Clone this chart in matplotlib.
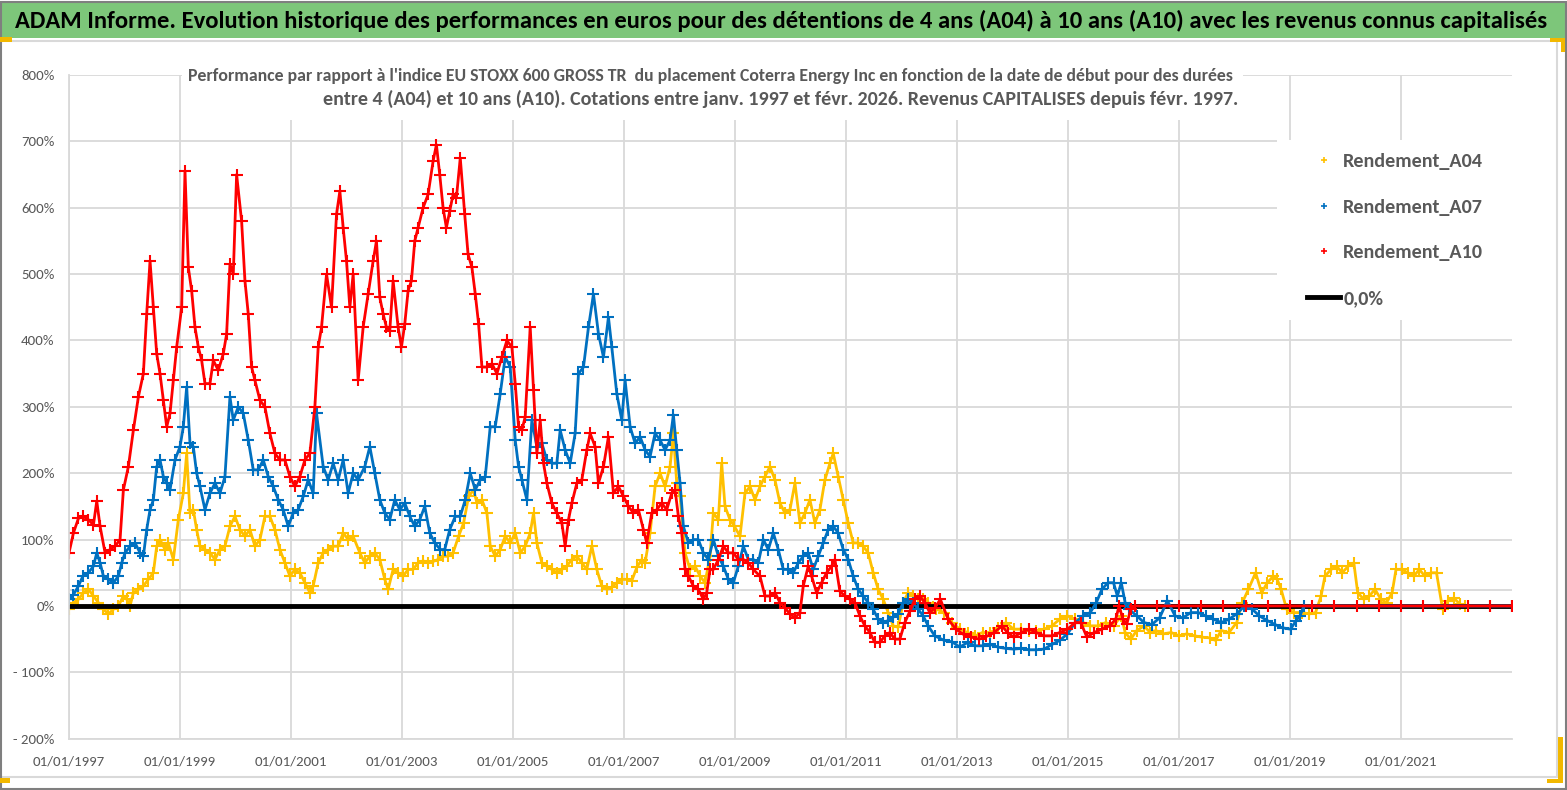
import matplotlib
matplotlib.use("Agg")
import matplotlib.pyplot as plt
from matplotlib.lines import Line2D
from matplotlib.patches import Rectangle

plt.rcParams['font.family'] = ['Carlito', 'DejaVu Sans']

# valeurs (annee decimale, rendement en %)
a04_years = [1997.00, 1997.08, 1997.17, 1997.26, 1997.35, 1997.44, 1997.53, 1997.62, 1997.71, 1997.80,
             1997.89, 1997.98, 1998.04, 1998.10, 1998.16, 1998.25, 1998.34, 1998.43, 1998.52, 1998.58,
             1998.64, 1998.73, 1998.79, 1998.88, 1998.97, 1999.06, 1999.12, 1999.18, 1999.24, 1999.30,
             1999.36, 1999.45, 1999.54, 1999.63, 1999.72, 1999.81, 1999.90, 1999.99, 2000.08, 2000.17,
             2000.26, 2000.35, 2000.44, 2000.53, 2000.62, 2000.71, 2000.80, 2000.89, 2000.98, 2001.07,
             2001.16, 2001.25, 2001.34, 2001.40, 2001.49, 2001.58, 2001.67, 2001.76, 2001.85, 2001.94,
             2002.03, 2002.12, 2002.24, 2002.33, 2002.42, 2002.51, 2002.60, 2002.69, 2002.75, 2002.84,
             2002.93, 2003.02, 2003.11, 2003.20, 2003.29, 2003.38, 2003.47, 2003.56, 2003.65, 2003.74,
             2003.83, 2003.92, 2004.02, 2004.11, 2004.20, 2004.29, 2004.35, 2004.44, 2004.53, 2004.59,
             2004.68, 2004.77, 2004.86, 2004.95, 2005.04, 2005.13, 2005.22, 2005.31, 2005.37, 2005.43,
             2005.52, 2005.61, 2005.70, 2005.79, 2005.88, 2005.97, 2006.06, 2006.15, 2006.24, 2006.33,
             2006.42, 2006.51, 2006.60, 2006.69, 2006.78, 2006.87, 2006.96, 2007.05, 2007.14, 2007.23,
             2007.32, 2007.38, 2007.47, 2007.56, 2007.65, 2007.74, 2007.83, 2007.89, 2007.95, 2008.01,
             2008.10, 2008.19, 2008.28, 2008.37, 2008.46, 2008.55, 2008.61, 2008.70, 2008.76, 2008.82,
             2008.91, 2008.99, 2009.09, 2009.18, 2009.27, 2009.36, 2009.45, 2009.54, 2009.63, 2009.72,
             2009.81, 2009.90, 2009.99, 2010.08, 2010.17, 2010.26, 2010.35, 2010.44, 2010.53, 2010.62,
             2010.71, 2010.77, 2010.86, 2010.95, 2011.04, 2011.13, 2011.22, 2011.31, 2011.40, 2011.49,
             2011.58, 2011.67, 2011.76, 2011.85, 2011.94, 2012.03, 2012.12, 2012.21, 2012.30, 2012.39,
             2012.48, 2012.57, 2012.63, 2012.77, 2012.91, 2013.05, 2013.19, 2013.33, 2013.46, 2013.60,
             2013.74, 2013.88, 2014.02, 2014.16, 2014.30, 2014.43, 2014.57, 2014.71, 2014.85, 2014.99,
             2015.13, 2015.27, 2015.40, 2015.54, 2015.68, 2015.82, 2015.96, 2016.03, 2016.13, 2016.24,
             2016.37, 2016.48, 2016.58, 2016.72, 2016.86, 2017.00, 2017.14, 2017.28, 2017.41, 2017.55,
             2017.66, 2017.76, 2017.90, 2018.04, 2018.14, 2018.25, 2018.38, 2018.49, 2018.59, 2018.70,
             2018.77, 2018.84, 2018.94, 2019.08, 2019.22, 2019.35, 2019.46, 2019.56, 2019.63, 2019.74,
             2019.84, 2019.94, 2020.05, 2020.15, 2020.22, 2020.33, 2020.43, 2020.53, 2020.64, 2020.74,
             2020.84, 2020.91, 2021.02, 2021.12, 2021.23, 2021.33, 2021.43, 2021.54, 2021.64, 2021.75,
             2021.85, 2021.95, 2022.06, 2022.16, 2022.60, 2023.00]
a04_vals = [-5, 5, 10, 20, 25, 15, 5, -5, -12, -5,
            0, 15, 10, 0, 20, 25, 30, 40, 50, 90,
            100, 85, 95, 70, 130, 170, 230, 140, 145, 115,
            90, 85, 80, 70, 85, 90, 120, 135, 115, 105,
            115, 90, 100, 135, 135, 115, 85, 65, 45, 55,
            50, 35, 20, 30, 65, 80, 85, 90, 90, 110,
            100, 105, 80, 65, 75, 80, 70, 40, 25, 55,
            50, 45, 55, 55, 65, 68, 65, 67, 70, 75,
            75, 80, 105, 125, 165, 175, 155, 160, 140, 90,
            75, 85, 105, 95, 110, 80, 90, 110, 140, 95,
            65, 60, 55, 50, 55, 60, 70, 75, 65, 55,
            90, 55, 30, 25, 28, 35, 40, 40, 38, 58,
            70, 65, 110, 180, 200, 180, 210, 260, 185, 165,
            80, 55, 60, 45, 35, 75, 140, 130, 215, 150,
            130, 120, 105, 170, 180, 160, 180, 195, 210, 190,
            155, 140, 145, 185, 125, 140, 160, 125, 145, 190,
            215, 230, 195, 160, 125, 95, 95, 90, 80, 50,
            25, 10, -10, -30, -32, 5, 20, 15, 10, 10,
            5, -2, -5, -10, -25, -35, -40, -45, -40, -40,
            -33, -25, -35, -35, -37, -37, -35, -30, -20, -15,
            -20, -25, -30, -30, -25, -30, -15, -40, -50, -37,
            -30, -40, -37, -42, -40, -45, -42, -45, -47, -48,
            -52, -37, -40, -25, 5, 25, 50, 20, 35, 45,
            40, 25, -5, -10, -10, -12, -10, 15, 45, 55,
            60, 50, 60, 65, 20, 10, 15, 25, 10, 5,
            20, 55, 55, 50, 45, 55, 45, 50, 50, -5,
            8, 12, 3, 0, 0, 0]

a07_years = [1997.00, 1997.08, 1997.17, 1997.25, 1997.35, 1997.44, 1997.50, 1997.56, 1997.62, 1997.71,
             1997.80, 1997.89, 1997.95, 1998.01, 1998.10, 1998.19, 1998.28, 1998.34, 1998.40, 1998.46,
             1998.52, 1998.58, 1998.64, 1998.70, 1998.76, 1998.82, 1998.91, 1999.00, 1999.06, 1999.12,
             1999.18, 1999.24, 1999.30, 1999.36, 1999.45, 1999.54, 1999.63, 1999.72, 1999.81, 1999.90,
             1999.96, 2000.05, 2000.14, 2000.23, 2000.32, 2000.41, 2000.50, 2000.59, 2000.68, 2000.77,
             2000.86, 2000.95, 2001.04, 2001.13, 2001.22, 2001.31, 2001.40, 2001.46, 2001.58, 2001.67,
             2001.76, 2001.85, 2001.94, 2002.03, 2002.12, 2002.21, 2002.33, 2002.42, 2002.51, 2002.60,
             2002.69, 2002.78, 2002.87, 2002.96, 2003.05, 2003.14, 2003.23, 2003.32, 2003.41, 2003.50,
             2003.59, 2003.69, 2003.77, 2003.86, 2003.96, 2004.05, 2004.14, 2004.23, 2004.32, 2004.41,
             2004.50, 2004.59, 2004.68, 2004.77, 2004.86, 2004.95, 2005.04, 2005.10, 2005.16, 2005.25,
             2005.34, 2005.43, 2005.52, 2005.61, 2005.70, 2005.79, 2005.85, 2005.94, 2006.03, 2006.12,
             2006.18, 2006.27, 2006.36, 2006.45, 2006.54, 2006.63, 2006.72, 2006.78, 2006.87, 2006.96,
             2007.02, 2007.11, 2007.20, 2007.29, 2007.38, 2007.47, 2007.56, 2007.65, 2007.74, 2007.83,
             2007.89, 2007.95, 2008.01, 2008.07, 2008.16, 2008.25, 2008.34, 2008.43, 2008.52, 2008.61,
             2008.70, 2008.79, 2008.88, 2008.97, 2009.06, 2009.15, 2009.24, 2009.33, 2009.42, 2009.51,
             2009.60, 2009.69, 2009.78, 2009.87, 2009.96, 2010.05, 2010.14, 2010.23, 2010.32, 2010.41,
             2010.50, 2010.59, 2010.68, 2010.77, 2010.86, 2010.95, 2011.04, 2011.13, 2011.22, 2011.31,
             2011.40, 2011.49, 2011.58, 2011.67, 2011.76, 2011.85, 2011.94, 2012.03, 2012.12, 2012.21,
             2012.30, 2012.39, 2012.48, 2012.60, 2012.77, 2012.91, 2013.05, 2013.19, 2013.33, 2013.46,
             2013.60, 2013.74, 2013.88, 2014.02, 2014.16, 2014.30, 2014.43, 2014.57, 2014.71, 2014.85,
             2014.99, 2015.13, 2015.27, 2015.40, 2015.51, 2015.61, 2015.72, 2015.82, 2015.89, 2015.96,
             2016.03, 2016.10, 2016.24, 2016.37, 2016.51, 2016.65, 2016.79, 2016.93, 2017.07, 2017.21,
             2017.35, 2017.48, 2017.62, 2017.76, 2017.90, 2018.04, 2018.18, 2018.32, 2018.45, 2018.59,
             2018.73, 2018.87, 2019.01, 2019.11, 2019.18, 2019.25, 2023.00]
a07_vals = [10, 17, 30, 45, 50, 60, 80, 65, 45, 40,
            35, 45, 65, 80, 90, 95, 80, 75, 115, 145,
            160, 210, 220, 195, 185, 175, 220, 240, 270, 330,
            245, 240, 200, 180, 145, 170, 185, 170, 195, 315,
            280, 300, 290, 250, 205, 205, 220, 195, 180, 160,
            145, 120, 140, 145, 165, 190, 170, 290, 210, 190,
            215, 190, 220, 170, 200, 190, 210, 240, 200, 160,
            140, 130, 160, 145, 155, 135, 120, 130, 150, 110,
            95, 85, 85, 115, 135, 135, 160, 200, 175, 190,
            195, 270, 270, 320, 375, 360, 250, 210, 190, 160,
            280, 240, 245, 220, 215, 215, 265, 235, 215, 260,
            350, 360, 420, 470, 410, 375, 435, 390, 320, 280,
            340, 270, 245, 255, 235, 225, 260, 250, 235, 250,
            288, 235, 185, 120, 95, 100, 100, 80, 70, 100,
            75, 60, 40, 35, 60, 90, 70, 70, 65, 100,
            85, 110, 85, 55, 55, 50, 65, 75, 80, 55,
            75, 95, 115, 120, 110, 85, 70, 45, 25, 15,
            5, -5, -20, -25, -22, -17, -12, 5, 10, 5,
            -5, -15, -30, -45, -52, -54, -62, -55, -60, -60,
            -58, -62, -64, -65, -64, -66, -66, -65, -58, -52,
            -42, -25, -15, -10, 5, 25, 35, 35, 15, 35,
            5, -5, -15, -25, -28, -18, 8, -15, -18, -10,
            -10, -15, -20, -25, -20, -12, 0, -5, -15, -22,
            -28, -33, -35, -22, -15, 0, 0]

a10_years = [1997.00, 1997.08, 1997.17, 1997.25, 1997.35, 1997.44, 1997.50, 1997.56, 1997.65, 1997.74,
             1997.83, 1997.92, 1997.98, 1998.07, 1998.16, 1998.25, 1998.34, 1998.40, 1998.46, 1998.52,
             1998.58, 1998.64, 1998.70, 1998.76, 1998.82, 1998.88, 1998.94, 1999.03, 1999.09, 1999.15,
             1999.21, 1999.27, 1999.33, 1999.39, 1999.45, 1999.54, 1999.60, 1999.69, 1999.78, 1999.84,
             1999.90, 1999.96, 2000.02, 2000.11, 2000.17, 2000.23, 2000.29, 2000.35, 2000.44, 2000.53,
             2000.62, 2000.71, 2000.80, 2000.89, 2000.98, 2001.07, 2001.16, 2001.25, 2001.34, 2001.43,
             2001.49, 2001.55, 2001.64, 2001.73, 2001.82, 2001.88, 2001.94, 2002.00, 2002.06, 2002.12,
             2002.21, 2002.30, 2002.39, 2002.48, 2002.54, 2002.60, 2002.66, 2002.72, 2002.78, 2002.84,
             2002.93, 2002.99, 2003.05, 2003.11, 2003.17, 2003.23, 2003.29, 2003.38, 2003.47, 2003.56,
             2003.62, 2003.68, 2003.74, 2003.80, 2003.86, 2003.92, 2003.98, 2004.05, 2004.13, 2004.19,
             2004.26, 2004.32, 2004.38, 2004.44, 2004.53, 2004.62, 2004.71, 2004.80, 2004.89, 2004.98,
             2005.04, 2005.10, 2005.16, 2005.22, 2005.31, 2005.37, 2005.43, 2005.49, 2005.55, 2005.61,
             2005.70, 2005.79, 2005.88, 2005.94, 2006.00, 2006.06, 2006.15, 2006.24, 2006.33, 2006.39,
             2006.48, 2006.54, 2006.63, 2006.72, 2006.81, 2006.90, 2006.99, 2007.08, 2007.17, 2007.26,
             2007.35, 2007.41, 2007.50, 2007.59, 2007.68, 2007.77, 2007.86, 2007.92, 2007.98, 2008.04,
             2008.10, 2008.16, 2008.25, 2008.34, 2008.43, 2008.49, 2008.55, 2008.61, 2008.70, 2008.79,
             2008.88, 2008.97, 2009.06, 2009.15, 2009.24, 2009.33, 2009.45, 2009.54, 2009.63, 2009.72,
             2009.81, 2009.90, 2009.99, 2010.08, 2010.17, 2010.23, 2010.32, 2010.38, 2010.47, 2010.56,
             2010.65, 2010.74, 2010.80, 2010.89, 2010.98, 2011.07, 2011.16, 2011.25, 2011.34, 2011.43,
             2011.52, 2011.61, 2011.70, 2011.79, 2011.88, 2011.97, 2012.06, 2012.15, 2012.24, 2012.33,
             2012.42, 2012.51, 2012.60, 2012.70, 2012.84, 2012.98, 2013.12, 2013.26, 2013.40, 2013.53,
             2013.67, 2013.81, 2013.91, 2014.02, 2014.16, 2014.30, 2014.43, 2014.57, 2014.71, 2014.85,
             2014.99, 2015.13, 2015.23, 2015.34, 2015.47, 2015.61, 2015.75, 2015.86, 2015.92, 2015.99,
             2016.06, 2016.13, 2016.20, 2016.60, 2017.00, 2017.40, 2017.80, 2018.20, 2018.60, 2019.00,
             2019.40, 2019.80, 2020.20, 2020.60, 2021.00, 2021.40, 2021.80, 2022.20, 2022.60, 2023.00]
a10_vals = [80, 110, 132, 135, 130, 122, 158, 120, 80, 85,
            90, 100, 175, 210, 265, 315, 350, 440, 520, 450,
            380, 350, 310, 270, 290, 340, 390, 450, 655, 510,
            475, 420, 390, 370, 335, 335, 370, 355, 380, 410,
            515, 500, 650, 580, 490, 440, 360, 340, 310, 300,
            260, 230, 220, 220, 195, 180, 195, 220, 230, 300,
            390, 420, 500, 450, 590, 625, 570, 520, 450, 500,
            340, 420, 470, 520, 550, 465, 440, 420, 415, 490,
            420, 390, 425, 475, 490, 550, 570, 600, 620, 670,
            695, 650, 600, 570, 595, 620, 615, 675, 590, 530,
            510, 470, 425, 360, 360, 365, 350, 375, 400, 390,
            335, 270, 265, 285, 420, 325, 230, 280, 215, 185,
            155, 140, 125, 90, 130, 155, 185, 190, 235, 260,
            240, 185, 210, 255, 170, 180, 165, 150, 140, 145,
            115, 95, 140, 145, 155, 145, 170, 175, 135, 110,
            55, 45, 30, 25, 10, 20, 55, 55, 70, 90,
            80, 80, 70, 70, 65, 55, 45, 15, 15, 20,
            5, -3, -12, -18, -10, 30, 60, 45, 20, 35,
            50, 60, 70, 22, 15, 10, 5, -15, -30, -40,
            -55, -55, -45, -40, -50, -50, -25, -8, 10, 15,
            5, -10, -3, 10, -20, -35, -43, -47, -50, -46,
            -40, -30, -40, -47, -40, -35, -40, -45, -45, -40,
            -35, -25, -25, -47, -40, -35, -30, -20, 0, -20,
            -27, -5, 0, 0, 0, 0, 0, 0, 0, 0,
            0, 0, 0, 0, 0, 0, 0, 0, 0, 0]

zero_line = [0.0, 0.0]
year_ticks = [1997, 1999, 2001, 2003, 2005, 2007, 2009, 2011, 2013, 2015, 2017, 2019, 2021]
pct_ticks = [800, 700, 600, 500, 400, 300, 200, 100, 0, -100, -200]
pct_labels = ['800%', '700%', '600%', '500%', '400%', '300%', '200%', '100%', '0%', '- 100%', '- 200%']
extra_gridline = 23.4

titre = ("ADAM Informe. Evolution historique des performances en euros pour des détentions "
         "de 4 ans (A04) à 10 ans (A10) avec les revenus connus capitalisés")
sous_titre_1 = ("Performance par rapport à l'indice EU STOXX 600 GROSS TR  du placement Coterra Energy Inc "
                "en fonction de la date de début pour des durées")
sous_titre_2 = ("entre 4 (A04) et 10 ans (A10). Cotations entre janv. 1997 et févr. 2026. "
                "Revenus CAPITALISES depuis févr. 1997.")

GOLD, BLUE, RED = '#FFC000', '#0070C0', '#FF0000'
GRIS = '#595959'
GRID = '#D9D9D9'

W, H = 1567, 790
fig = plt.figure(figsize=(W / 100, H / 100), dpi=100)
fig.patch.set_facecolor('white')


def fx(px):
    return px / W


def fy(py):
    return 1 - py / H


ax = fig.add_axes([fx(69), fy(738.7), fx(1512) - fx(69), fy(75) - fy(738.7)])
ax.set_xlim(1997, 2023)
ax.set_ylim(-200, 800)
ax.set_yticks(pct_ticks)
ax.set_yticklabels(pct_labels)
ax.set_xticks(year_ticks)
ax.set_xticklabels(['01/01/%d' % y for y in year_ticks])
ax.tick_params(length=0, labelsize=10.7, labelcolor=GRIS)
ax.tick_params(axis='y', pad=10.5)
ax.tick_params(axis='x', pad=12)
ax.grid(True, color=GRID, lw=1.3)
ax.axhline(extra_gridline, color=GRID, lw=1.3, zorder=1.5)
for s in ['top', 'right']:
    ax.spines[s].set_visible(False)
for s in ['left', 'bottom']:
    ax.spines[s].set_color(GRID)
    ax.spines[s].set_linewidth(1.3)

# fonds blancs sous la legende et sous le sous-titre (cachent la grille)
for (x0, y0, x1, y1) in [(1277, 140, 1513, 320), (182, 60, 1243, 120)]:
    ax.add_patch(Rectangle((fx(x0), fy(y1)), fx(x1) - fx(x0), fy(y0) - fy(y1), transform=fig.transFigure,
                           facecolor='white', edgecolor='none', zorder=1.8, clip_on=False))

style = dict(marker='+', ms=8, mew=1.5, lw=2.0)
ax.plot(a04_years, a04_vals, color=GOLD, zorder=2.0, **style)
ax.plot([1997, 2023], zero_line, color='black', lw=3.5, zorder=2.1)
ax.plot(a07_years, a07_vals, color=BLUE, zorder=2.2, **style)
ax.plot(a10_years, a10_vals, color=RED, zorder=2.3, **style)

handles = [Line2D([], [], ls='', marker='+', ms=5, mew=1.2, color=GOLD),
           Line2D([], [], ls='', marker='+', ms=5, mew=1.2, color=BLUE),
           Line2D([], [], ls='', marker='+', ms=5, mew=1.2, color=RED),
           Line2D([], [], color='black', lw=3.5)]
leg = ax.legend(handles, ['Rendement_A04', 'Rendement_A07', 'Rendement_A10', '0,0%'],
                loc='upper left', bbox_to_anchor=(fx(1307), fy(153)), bbox_transform=fig.transFigure,
                frameon=False, borderpad=0, borderaxespad=0,
                prop=dict(size=14.5, weight='bold'), labelcolor=GRIS,
                labelspacing=1.42, handlelength=1.65, handletextpad=0.15)
leg.set_zorder(5)

# cadre, bandeau titre, poignees de selection
fig.patches.append(Rectangle((0, fy(38)), 1, fy(3) - fy(38), transform=fig.transFigure,
                             facecolor='#7DC67A', edgecolor='none', zorder=0))
fig.patches.append(Rectangle((0, fy(777)), fx(1557), fy(41) - fy(777), transform=fig.transFigure,
                             facecolor='none', edgecolor=GRID, lw=1.5, zorder=0))
fig.patches.append(Rectangle((0.0005, 0.001), 0.999, 0.997, transform=fig.transFigure,
                             facecolor='none', edgecolor='#7F7F7F', lw=1.5, zorder=0))
for (x0, y0, x1, y1) in [(0, 37, 12, 42), (1550, 38, 1565, 42), (1561, 38, 1565, 52),
                         (1558, 737, 1563, 783), (1547, 779, 1563, 783), (0, 778, 10, 783)]:
    fig.patches.append(Rectangle((fx(x0), fy(y1)), fx(x1) - fx(x0), fy(y0) - fy(y1),
                                 transform=fig.transFigure, facecolor='#F2B800', edgecolor='none', zorder=1))

t0 = fig.text(fx(15), fy(21), titre, ha='left', va='center', fontsize=17, fontweight='bold', color='black')
t1 = fig.text(fx(710), fy(76), sous_titre_1, ha='center', va='center', fontsize=13, fontweight='bold', color=GRIS)
t2 = fig.text(fx(781), fy(99), sous_titre_2, ha='center', va='center', fontsize=13, fontweight='bold', color=GRIS)

# ajuste la taille des textes a la largeur
renderer = fig.canvas.get_renderer()
for t, width in [(t0, 1530), (t1, 1045), (t2, 913)]:
    w = t.get_window_extent(renderer).width
    t.set_fontsize(t.get_fontsize() * width / w)

fig.savefig('out.png', dpi=100)
